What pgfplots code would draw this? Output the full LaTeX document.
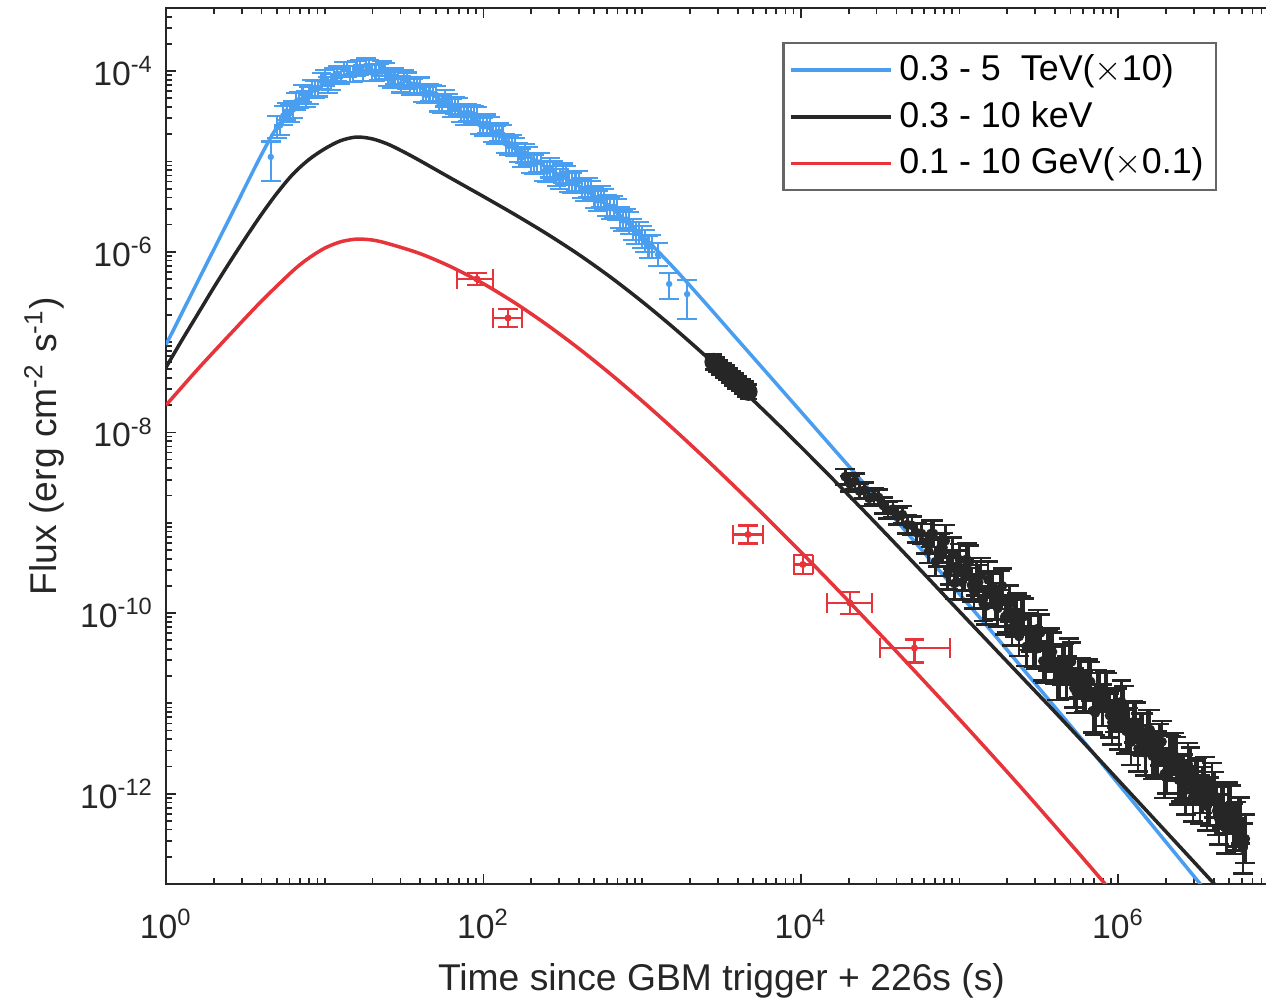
\documentclass[border=0pt]{standalone}
\usepackage{fontspec}
\setmainfont{Liberation Sans}
\usepackage{pgfplots}
\usepackage{pgfplotstable}
\pgfplotsset{compat=1.18}

\definecolor{tevblue}{RGB}{74,158,240}
\definecolor{gevred}{RGB}{230,52,58}
\definecolor{xblack}{RGB}{38,38,38}

% minor ticks at 2..9 of every decade, plus the unlabelled decades
\def\minorx{}
\foreach \e in {0,...,6}{\foreach \m in {2,...,9}{\xdef\minorx{\minorx\m e\e,}}}
\xdef\minorx{\minorx 1e1,1e3,1e5}
\def\minory{}
\foreach \e in {-13,...,-4}{\foreach \m in {2,...,9}{\xdef\minory{\minory\m e\e,}}}
\xdef\minory{\minory 1e-11,1e-9,1e-7,1e-5}

% model curves
\pgfplotstableread{
t       f
1       9.33e-8
1.585   4.68e-7
2.512   2.34e-6
3.981   1.175e-5
5.012   2.40e-5
6.310   3.98e-5
7.943   5.62e-5
10      7.24e-5
12.59   8.71e-5
15.85   9.77e-5
19.95   1.023e-4
25.12   9.33e-5
31.62   7.94e-5
39.81   6.61e-5
63.10   4.07e-5
100     2.57e-5
158.5   1.445e-5
251.2   8.51e-6
398.1   5.37e-6
631.0   3.09e-6
1000    1.514e-6
1585    6.61e-7
2512    2.69e-7
3981    1.07e-7
6310    4.27e-8
1e4     1.70e-8
15850   6.76e-9
25120   2.69e-9
39810   1.07e-9
63100   4.17e-10
1e5     1.62e-10
158500  6.31e-11
251200  2.40e-11
398100  9.12e-12
631000  3.47e-12
1e6     1.29e-12
1.585e6 4.79e-13
2.512e6 1.78e-13
3.981e6 6.61e-14
6.310e6 2.4e-14
}\tevcurve

\pgfplotstableread{
t       f
1       5.25e-8
1.259   1.047e-7
1.585   2.042e-7
1.995   3.981e-7
2.512   7.586e-7
3.162   1.413e-6
3.981   2.570e-6
5.012   4.467e-6
6.310   7.244e-6
7.943   1.047e-5
10      1.380e-5
12.59   1.698e-5
15.85   1.862e-5
19.95   1.778e-5
25.12   1.549e-5
31.62   1.270e-5
39.81   1.02e-5
63.10   6.45e-6
100     4.09e-6
158.5   2.570e-6
251.2   1.578e-6
398.1   9.333e-7
631.0   5.248e-7
1000    2.805e-7
1585    1.432e-7
2512    7.015e-8
3981    3.327e-8
6310    1.535e-8
1e4     6.918e-9
15850   3.062e-9
25120   1.337e-9
39810   5.754e-10
63100   2.455e-10
1e5     1.038e-10
158500  4.426e-11
251200  1.888e-11
398100  8.054e-12
631000  3.388e-12
1e6     1.413e-12
1.585e6 5.888e-13
2.512e6 2.455e-13
3.981e6 1.023e-13
6.310e6 4.266e-14
}\xraycurve

\pgfplotstableread{
t       f
1       2.0e-8
1.585   5.01e-8
2.512   1.20e-7
3.981   2.82e-7
6.310   6.166e-7
7.943   8.511e-7
10      1.096e-6
12.59   1.288e-6
15.85   1.380e-6
19.95   1.349e-6
25.12   1.230e-6
39.81   9.55e-7
63.10   6.76e-7
100     4.426e-7
158.5   2.704e-7
251.2   1.556e-7
398.1   8.511e-8
631.0   4.446e-8
1000    2.228e-8
1585    1.081e-8
2512    5.105e-9
3981    2.355e-9
6310    1.067e-9
1e4     4.742e-10
15850   2.070e-10
25120   8.872e-11
39810   3.784e-11
63100   1.592e-11
1e5     6.637e-12
158500  2.729e-12
251200  1.107e-12
398100  4.406e-13
631000  1.738e-13
1e6     6.761e-14
}\gevcurve

% 0.3-5 TeV (x10) light curve
\pgfplotstableread{
t      f         ep    em
4.571  1.122e-5  0.48  0.46
5.012  2.399e-5  0.32  0.25
5.248  2.512e-5  0.28  0.22
5.495  3.236e-5  0.26  0.21
5.754  3.59e-5   0.25  0.20
6.026  3.388e-5  0.25  0.20
6.310  3.76e-5   0.25  0.20
6.607  4.571e-5  0.24  0.19
6.918  4.786e-5  0.24  0.19
7.244  5.623e-5  0.24  0.19
7.586  4.898e-5  0.24  0.19
7.943  5.370e-5  0.23  0.19
8.318  6.53e-5   0.23  0.19
8.710  6.310e-5  0.24  0.19
9.120  6.457e-5  0.23  0.19
9.550  7.762e-5  0.22  0.18
10.0   8.41e-5   0.22  0.18
10.47  7.079e-5  0.23  0.19
10.96  7.586e-5  0.23  0.19
11.48  8.913e-5  0.22  0.18
12.02  9.44e-5   0.22  0.18
12.59  8.710e-5  0.22  0.18
13.18  1.047e-4  0.21  0.17
13.80  1.047e-4  0.21  0.17
14.45  9.333e-5  0.22  0.18
15.14  9.333e-5  0.22  0.18
15.85  1.059e-4  0.21  0.17
16.60  1.096e-4  0.21  0.17
17.38  9.55e-5   0.22  0.18
18.20  1.148e-4  0.21  0.17
19.05  1.109e-4  0.21  0.17
19.95  9.550e-5  0.22  0.18
20.89  9.55e-5   0.22  0.18
21.88  9.772e-5  0.22  0.18
22.91  1.072e-4  0.21  0.17
23.99  1.000e-4  0.22  0.18
25.12  8.41e-5   0.22  0.18
26.30  7.943e-5  0.23  0.19
27.54  8.81e-5   0.22  0.18
28.84  8.511e-5  0.22  0.18
30.20  7.16e-5   0.23  0.19
31.62  8.318e-5  0.23  0.19
33.11  7.85e-5   0.23  0.19
34.67  6.761e-5  0.24  0.19
36.31  6.68e-5   0.24  0.19
38.02  7.079e-5  0.23  0.19
39.81  6.918e-5  0.23  0.19
41.69  5.623e-5  0.24  0.19
43.65  5.43e-5   0.24  0.19
45.71  5.754e-5  0.24  0.19
47.86  5.623e-5  0.24  0.19
50.12  5.495e-5  0.24  0.19
52.48  4.467e-5  0.25  0.20
54.95  4.266e-5  0.25  0.20
57.54  5.012e-5  0.24  0.19
60.26  4.467e-5  0.24  0.19
63.10  3.890e-5  0.25  0.20
66.07  4.169e-5  0.25  0.20
69.18  4.03e-5   0.25  0.20
72.44  3.388e-5  0.25  0.20
75.86  3.20e-5   0.25  0.20
79.43  3.467e-5  0.25  0.20
83.18  3.388e-5  0.25  0.20
87.10  3.311e-5  0.25  0.20
91.20  3.20e-5   0.25  0.20
95.50  2.570e-5  0.26  0.21
100    2.43e-5   0.26  0.21
104.7  2.630e-5  0.26  0.21
109.6  2.48e-5   0.26  0.21
114.8  2.089e-5  0.26  0.21
120.2  1.97e-5   0.26  0.21
125.9  2.138e-5  0.26  0.21
131.8  1.995e-5  0.26  0.21
138.0  1.585e-5  0.27  0.21
144.5  1.479e-5  0.27  0.21
151.4  1.549e-5  0.27  0.21
158.5  1.445e-5  0.27  0.21
166.0  1.259e-5  0.27  0.21
173.8  1.096e-5  0.27  0.21
182.0  1.230e-5  0.27  0.21
190.5  1.148e-5  0.27  0.21
199.5  9.550e-6  0.27  0.22
208.9  9.333e-6  0.27  0.22
218.8  9.772e-6  0.27  0.22
229.1  9.772e-6  0.27  0.22
239.9  7.762e-6  0.28  0.22
251.2  7.67e-6   0.28  0.22
263.0  8.511e-6  0.28  0.22
275.4  7.943e-6  0.28  0.22
288.4  6.918e-6  0.28  0.22
302.0  6.38e-6   0.28  0.22
316.2  7.413e-6  0.28  0.22
331.1  7.00e-6   0.28  0.22
346.7  5.888e-6  0.29  0.22
363.1  5.754e-6  0.29  0.22
380.2  6.026e-6  0.29  0.22
398.1  6.026e-6  0.29  0.22
416.9  5.012e-6  0.29  0.22
436.5  4.677e-6  0.29  0.22
457.1  5.129e-6  0.29  0.22
478.6  4.73e-6   0.29  0.22
501.2  3.981e-6  0.30  0.23
524.8  3.67e-6   0.30  0.23
549.5  4.074e-6  0.30  0.23
575.4  3.85e-6   0.30  0.23
602.6  3.236e-6  0.30  0.23
631.0  3.020e-6  0.30  0.23
660.7  3.162e-6  0.30  0.23
691.8  2.951e-6  0.30  0.23
724.4  2.399e-6  0.31  0.24
758.6  2.21e-6   0.31  0.24
794.3  2.291e-6  0.31  0.24
831.8  2.089e-6  0.31  0.24
871.0  1.778e-6  0.31  0.24
912.0  1.60e-6   0.32  0.24
955.0  1.622e-6  0.32  0.24
1000   1.46e-6   0.32  0.24
1047   1.318e-6  0.32  0.24
1096   1.135e-6  0.33  0.25
1148   1.148e-6  0.33  0.25
1259   9.333e-7  0.33  0.25
1480   4.4e-7    0.32  0.32
1920   3.4e-7    0.43  0.47
}\tevdata

% 0.1-10 GeV (x0.1)
\pgfplotstableread{
t      f        xm     xp     ym        yp
91     5.0e-7   23     24     0.75e-7   0.88e-7
143    1.85e-7  28     32     0.38e-7   0.48e-7
4650   7.4e-10  910    1130   1.52e-10  1.92e-10
10300  3.45e-10 1240   1640   0.77e-10  0.99e-10
20400  1.29e-10 5800   7700   0.31e-10  0.41e-10
52000  4.1e-11  20500  35000  1.27e-11  0.99e-11
}\gevdata

% 0.3-10 keV, first (dense) block
\pgfplotstableread{
t        f         ep    em
2818     6.026e-8  0.20  0.17
2951     5.623e-8  0.20  0.17
3090     5.248e-8  0.20  0.17
3236     4.898e-8  0.20  0.17
3388     4.571e-8  0.20  0.17
3548     4.266e-8  0.20  0.17
3715     3.981e-8  0.20  0.17
3890     3.715e-8  0.20  0.17
4074     3.467e-8  0.20  0.17
4266     3.236e-8  0.20  0.17
4467     3.020e-8  0.20  0.17
4677     2.818e-8  0.20  0.17
}\xrayblob

% 0.3-10 keV, later data
\pgfplotstableread{
t        f         ep    em
19050    3.236e-9  0.22  0.18
20420    2.692e-9  0.22  0.18
21880    2.884e-9  0.22  0.18
23440    2.239e-9  0.22  0.18
25120    2.291e-9  0.22  0.18
26920    1.862e-9  0.22  0.18
28840    1.950e-9  0.22  0.18
30900    1.905e-9  0.22  0.18
33110    1.549e-9  0.23  0.19
35480    1.380e-9  0.23  0.19
38020    1.413e-9  0.23  0.19
40740    1.175e-9  0.24  0.19
43650    1.230e-9  0.24  0.19
46770    9.550e-10 0.26  0.21
50120    9.333e-10 0.26  0.21
53700    7.762e-10 0.28  0.22
57540    7.586e-10 0.28  0.22
61660    5.888e-10 0.30  0.23
63870    4.84e-10  0.35  0.26
66070    7.586e-10 0.40  0.29
68430    7.59e-10  0.40  0.29
70790    3.715e-10 0.45  0.31
73330    4.73e-10  0.45  0.31
75860    5.248e-10 0.45  0.31
78570    5.31e-10  0.45  0.31
81280    6.310e-10 0.50  0.33
84190    2.72e-10  0.50  0.33
87100    3.090e-10 0.50  0.33
90220    4.57e-10  0.50  0.33
93330    2.138e-10 0.50  0.33
96670    3.31e-10  0.50  0.33
100000   3.890e-10 0.50  0.33
103600   2.19e-10  0.55  0.35
107200   2.630e-10 0.50  0.33
111000   3.94e-10  0.50  0.33
114800   3.631e-10 0.55  0.35
118900   2.04e-10  0.55  0.35
123000   1.738e-10 0.55  0.35
127400   2.40e-10  0.55  0.35
131800   2.188e-10 0.55  0.35
136500   2.63e-10  0.55  0.35
141300   1.259e-10 0.55  0.35
146400   1.19e-10  0.60  0.37
151400   2.344e-10 0.60  0.37
156800   1.86e-10  0.55  0.35
162200   1.778e-10 0.55  0.35
168000   1.35e-10  0.60  0.37
173800   1.122e-10 0.60  0.37
180000   1.88e-10  0.55  0.35
186200   1.995e-10 0.55  0.35
192900   9.12e-11  0.60  0.37
199500   9.772e-11 0.60  0.37
206600   1.26e-10  0.60  0.37
213800   6.918e-11 0.60  0.37
221400   8.71e-11  0.60  0.37
229100   1.000e-10 0.65  0.39
237300   5.50e-11  0.65  0.39
245500   9.550e-11 0.60  0.37
254200   9.12e-11  0.60  0.37
263000   4.266e-11 0.65  0.39
272400   6.17e-11  0.60  0.37
281800   5.888e-11 0.60  0.37
291900   4.17e-11  0.65  0.39
302000   3.981e-11 0.65  0.39
312800   6.76e-11  0.60  0.37
323600   6.026e-11 0.60  0.37
335100   2.95e-11  0.65  0.39
346700   2.754e-11 0.65  0.39
359100   3.80e-11  0.65  0.39
371500   4.074e-11 0.65  0.39
384800   3.72e-11  0.65  0.39
398100   2.630e-11 0.60  0.37
412300   1.84e-11  0.70  0.41
426600   1.778e-11 0.65  0.39
441800   2.63e-11  0.65  0.39
457100   2.754e-11 0.65  0.39
473400   1.93e-11  0.70  0.41
489800   3.090e-11 0.70  0.41
507300   2.88e-11  0.65  0.39
524800   1.479e-11 0.65  0.39
543500   1.32e-11  0.70  0.41
562300   1.905e-11 0.65  0.39
582400   1.93e-11  0.65  0.39
602600   1.349e-11 0.70  0.41
624100   1.38e-11  0.70  0.41
645700   1.862e-11 0.65  0.39
668700   1.74e-11  0.65  0.39
691800   8.318e-12 0.75  0.43
716500   7.85e-12  0.75  0.43
741300   1.413e-11 0.65  0.39
767800   1.32e-11  0.65  0.39
794300   9.550e-12 0.70  0.41
822700   1.36e-11  0.65  0.39
851100   1.318e-11 0.65  0.39
881500   7.33e-12  0.75  0.43
912000   6.166e-12 0.75  0.43
944600   8.13e-12  0.70  0.41
977200   8.913e-12 0.65  0.39
1.012e6  5.43e-12  0.75  0.43
1.047e6  1.047e-11 0.70  0.41
1.084e6  9.44e-12  0.65  0.39
1.122e6  4.898e-12 0.75  0.43
1.162e6  5.07e-12  0.75  0.43
1.202e6  3.715e-12 0.80  0.44
1.245e6  6.24e-12  0.70  0.41
1.288e6  6.166e-12 0.65  0.39
1.334e6  3.16e-12  0.80  0.44
1.380e6  4.571e-12 0.70  0.41
1.429e6  4.52e-12  0.70  0.41
1.479e6  2.818e-12 0.80  0.44
1.532e6  4.95e-12  0.70  0.41
1.585e6  5.129e-12 0.65  0.39
1.641e6  2.60e-12  0.80  0.44
1.698e6  2.692e-12 0.75  0.43
1.759e6  2.82e-12  0.75  0.43
1.820e6  3.467e-12 0.70  0.41
1.885e6  3.76e-12  0.70  0.41
1.950e6  1.660e-12 0.85  0.46
2.019e6  1.78e-12  0.80  0.44
2.089e6  2.570e-12 0.75  0.43
2.164e6  2.48e-12  0.75  0.43
2.239e6  2.754e-12 0.70  0.41
2.319e6  2.43e-12  0.75  0.43
2.399e6  1.413e-12 0.85  0.46
2.484e6  1.46e-12  0.80  0.44
2.570e6  1.549e-12 0.75  0.43
2.662e6  1.096e-12 0.85  0.46
2.754e6  2.138e-12 0.70  0.41
2.852e6  1.84e-12  0.75  0.43
2.951e6  9.333e-13 0.90  0.47
3.056e6  1.33e-12  0.75  0.43
3.162e6  1.413e-12 0.75  0.43
3.275e6  8.71e-13  0.85  0.46
3.388e6  1.096e-12 0.80  0.44
3.509e6  1.46e-12  0.75  0.43
3.631e6  7.244e-13 0.85  0.46
3.760e6  8.22e-13  0.85  0.46
3.890e6  1.288e-12 0.70  0.41
4.029e6  9.66e-13  0.80  0.44
4.169e6  6.457e-13 0.85  0.46
4.318e6  5.19e-13  0.90  0.47
4.467e6  7.413e-13 0.80  0.44
4.626e6  6.68e-13  0.85  0.46
4.786e6  4.074e-13 0.90  0.47
4.957e6  7.33e-13  0.80  0.44
5.129e6  7.079e-13 0.75  0.43
5.312e6  4.07e-13  0.90  0.47
5.495e6  4.365e-13 0.85  0.46
5.691e6  4.84e-13  0.85  0.46
5.888e6  5.012e-13 0.80  0.44
6.099e6  2.48e-13  0.90  0.47
6.310e6  3.162e-13 0.85  0.46
}\xraydata

\begin{document}
\begin{tikzpicture}
\begin{loglogaxis}[
  scale only axis, width=11.11cm, height=8.76cm,
  xmin=1, xmax=1e7, ymin=1e-13, ymax=5e-4,
  xtick={1,100,1e4,1e6},
  xticklabels={10\textsuperscript{0},10\textsuperscript{2},10\textsuperscript{4},10\textsuperscript{6}},
  ytick={1e-12,1e-10,1e-8,1e-6,1e-4},
  yticklabels={10\textsuperscript{-12},10\textsuperscript{-10},10\textsuperscript{-8},10\textsuperscript{-6},10\textsuperscript{-4}},
  minor xtick/.expand once=\minorx,
  minor ytick/.expand once=\minory,
  major tick length=0.1cm, minor tick length=0.06cm,
  tick style={xblack, line width=0.5pt},
  axis line style={xblack, line width=0.6pt},
  tick label style={font=\fontsize{9.6}{11}\selectfont, text=xblack},
  xticklabel style={yshift=-0.13cm},
  label style={font=\fontsize{10.6}{12}\selectfont, text=xblack},
  ylabel style={yshift=-0.08cm},
  xlabel={Time since GBM trigger + 226s (s)},
  ylabel={Flux (erg cm\textsuperscript{-2} s\textsuperscript{-1})},
  legend style={at={(0.946,0.961)}, anchor=north east, draw=black!60, line width=0.6pt,
    font=\fontsize{10.2}{12.5}\selectfont, row sep=0.4pt, inner xsep=1.5pt, inner ysep=1.2pt},
  legend cell align=left,
  legend image code/.code={\draw[#1] (0cm,0cm) -- (1.0cm,0cm);},
]
\addplot[tevblue, line width=1pt, smooth] table[x=t, y=f] {\tevcurve};
\addlegendentry{0.3 - 5\ \ TeV($\times$10)}
\addplot[xblack, line width=1pt, smooth] table[x=t, y=f] {\xraycurve};
\addlegendentry{0.3 - 10 keV}
\addplot[gevred, line width=1pt, smooth] table[x=t, y=f] {\gevcurve};
\addlegendentry{0.1 - 10 GeV($\times$0.1)}

\addplot[forget plot, only marks, mark=*, mark size=0.7pt, tevblue,
  error bars/.cd, y dir=both, y explicit relative,
  error bar style={tevblue, line width=0.6pt},
  error mark options={rotate=90, tevblue, mark size=2.8pt, line width=0.6pt}]
  table[x=t, y=f, y error plus=ep, y error minus=em] {\tevdata};

\addplot[forget plot, only marks, mark=*, mark size=2.4pt, xblack,
  error bars/.cd, y dir=both, y explicit relative,
  error bar style={xblack, line width=0.8pt},
  error mark options={rotate=90, xblack, mark size=2.4pt, line width=0.8pt}]
  table[x=t, y=f, y error plus=ep, y error minus=em] {\xrayblob};

\addplot[forget plot, only marks, mark=*, mark size=1.2pt, xblack,
  error bars/.cd, y dir=both, y explicit relative,
  error bar style={xblack, line width=0.75pt},
  error mark options={rotate=90, xblack, mark size=2.8pt, line width=0.75pt}]
  table[x=t, y=f, y error plus=ep, y error minus=em] {\xraydata};

\addplot[forget plot, only marks, mark=*, mark size=0.8pt, gevred,
  error bars/.cd, x dir=both, x explicit, y dir=both, y explicit,
  error bar style={gevred, line width=0.6pt},
  error mark options={rotate=90, gevred, mark size=2.8pt, line width=0.6pt}]
  table[x=t, y=f, x error plus=xp, x error minus=xm, y error plus=yp, y error minus=ym] {\gevdata};
\end{loglogaxis}
\pgfresetboundingbox
\path[use as bounding box] (-1.66,-1.16) rectangle (11.00,8.84);
\end{tikzpicture}
\end{document}
